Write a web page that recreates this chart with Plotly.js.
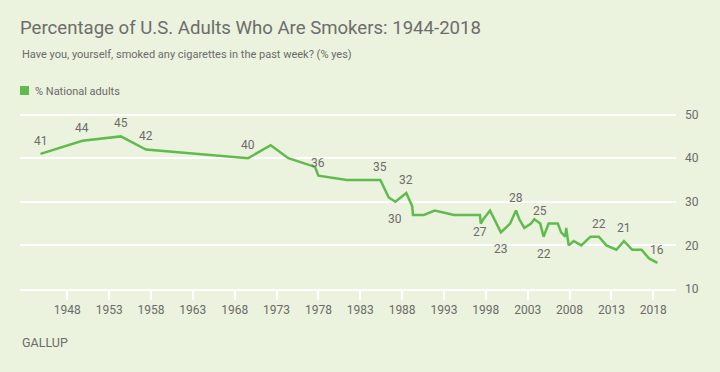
<!DOCTYPE html>
<html>
<head>
<meta charset="utf-8">
<script src="https://cdn.plot.ly/plotly-3.0.1.min.js"></script>
<style>
  html, body { margin: 0; padding: 0; background: #ebf2dd; }
  #chart { width: 720px; height: 372px; }
</style>
</head>
<body>
<div id="chart"></div>
<script>
// ---- Data ----
const years = [1944.8, 1949.8, 1954.4, 1957.4, 1969.6, 1972.3, 1974.4, 1977.6, 1978.0, 1981.4,
  1985.4, 1986.4, 1987.2, 1988.5, 1989.2, 1989.3, 1990.6, 1991.9, 1994.2, 1997.3,
  1997.4, 1997.7, 1998.5, 1999.8, 2000.9, 2001.6, 2002.0, 2002.6, 2003.4, 2003.8,
  2004.5, 2004.9, 2005.5, 2006.6, 2007.0, 2007.5, 2007.6, 2007.9, 2008.5, 2009.4,
  2010.5, 2011.5, 2012.4, 2013.6, 2014.5, 2015.5, 2016.6, 2017.5, 2018.5];
const smokers = [41, 44, 45, 42, 40, 43, 40, 38, 36, 35,
  35, 31, 30, 32, 29, 27, 27, 28, 27, 27,
  25, 26, 28, 23, 25, 28, 26, 24, 25, 26,
  25, 22, 25, 25, 23, 22, 24, 20, 21, 20,
  22, 22, 20, 19, 21, 19, 19, 17, 16];
const labelIndex = [0, 1, 2, 3, 4, 8, 10, 12, 13, 19, 23, 25, 30, 31, 41, 44, 48];
const labelBelow = [12, 19, 23, 31];
const xTicks = [1948, 1953, 1958, 1963, 1968, 1973, 1978, 1983, 1988, 1993, 1998, 2003, 2008, 2013, 2018];
const yTicks = [10, 20, 30, 40, 50];
const seriesName = '% National adults';

const green = '#60bb4f';
const grey = '#6b6b6b';
const font = 'Roboto, "Open Sans", Arial, sans-serif';

const line = {
  type: 'scatter', mode: 'lines', x: years, y: smokers, name: seriesName,
  line: { color: green, width: 2.5 }, showlegend: false, hoverinfo: 'x+y'
};

const annotations = labelIndex.map(i => ({
  xref: 'x', yref: 'y', x: years[i], y: smokers[i], text: String(smokers[i]),
  showarrow: false, font: { family: font, size: 12, color: grey },
  yshift: labelBelow.includes(i) ? -17 : 13
}));

// subtitle, legend text, footer
annotations.push({
  xref: 'paper', yref: 'paper', x: 0, y: (289 - 55) / 177, xanchor: 'left', yanchor: 'middle',
  text: 'Have you, yourself, smoked any cigarettes in the past week? (% yes)',
  showarrow: false, font: { family: font, size: 11, color: grey }
});
annotations.push({
  xref: 'paper', yref: 'paper', x: 13 / 656, y: (289 - 91) / 177, xanchor: 'left', yanchor: 'middle',
  text: seriesName, showarrow: false, font: { family: font, size: 11, color: grey }
});
annotations.push({
  xref: 'paper', yref: 'paper', x: 0, y: (289 - 342) / 177, xanchor: 'left', yanchor: 'middle',
  text: 'GALLUP', showarrow: false, font: { family: font, size: 12.5, color: grey }
});

const layout = {
  width: 720, height: 372,
  paper_bgcolor: '#ebf2dd', plot_bgcolor: '#ebf2dd',
  margin: { l: 20, r: 44, t: 112, b: 83 },
  title: {
    text: 'Percentage of U.S. Adults Who Are Smokers: 1944-2018',
    xref: 'container', yref: 'container', x: 20 / 720, xanchor: 'left',
    y: 1 - 27 / 372, yanchor: 'middle',
    font: { family: font, size: 18.6, color: '#6d6d6d' }
  },
  xaxis: {
    range: [1942.35, 2020.72], tickvals: xTicks, ticktext: xTicks.map(String),
    showgrid: false, zeroline: false, showline: true, linecolor: '#ffffff', linewidth: 2,
    ticks: 'outside', ticklen: 9, tickwidth: 2, tickcolor: '#ffffff',
    tickfont: { family: font, size: 12, color: grey }
  },
  yaxis: {
    range: [10, 50.6], tickvals: yTicks, side: 'right',
    showgrid: true, gridcolor: '#ffffff', gridwidth: 2, zeroline: false,
    ticks: '', ticklabelstandoff: 8,
    tickfont: { family: font, size: 12, color: grey }
  },
  shapes: [{
    type: 'rect', xref: 'paper', yref: 'paper',
    x0: 0, x1: 9 / 656, y0: (289 - 95) / 177, y1: (289 - 86) / 177,
    fillcolor: green, line: { width: 0 }
  }],
  annotations: annotations,
  showlegend: false
};

Plotly.newPlot('chart', [line], layout, { displayModeBar: false, staticPlot: true });
</script>
</body>
</html>
